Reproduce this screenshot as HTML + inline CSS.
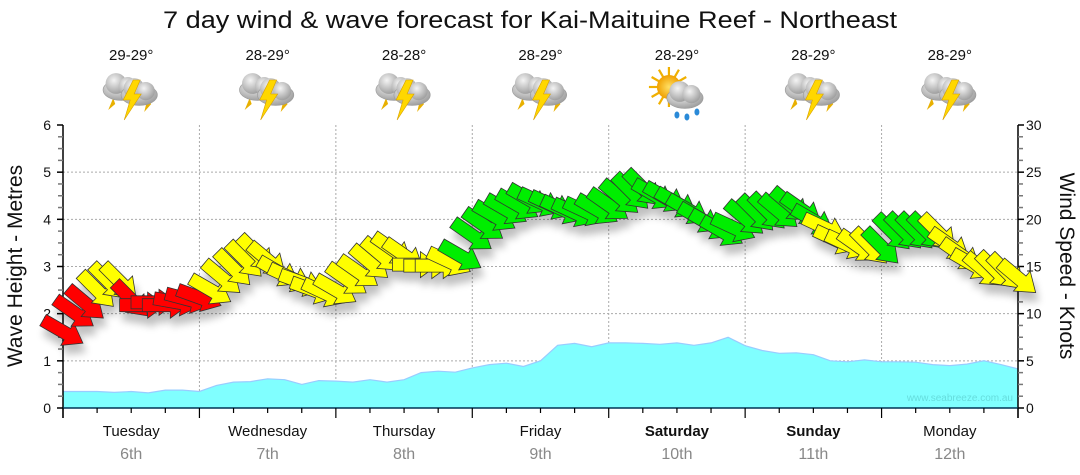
<!DOCTYPE html>
<html><head><meta charset="utf-8"><style>
html,body{margin:0;padding:0;background:#fff;}
svg{display:block;font-family:"Liberation Sans","DejaVu Sans",sans-serif;}
</style></head><body>
<svg id="chart" width="1080" height="475" viewBox="0 0 1080 475" xmlns="http://www.w3.org/2000/svg">
<defs>
<filter id="shadow" x="-50%" y="-50%" width="200%" height="250%">
<feGaussianBlur in="SourceAlpha" stdDeviation="4"/>
<feOffset dx="3" dy="9" result="b"/>
<feComponentTransfer><feFuncA type="linear" slope="0.25"/></feComponentTransfer>
<feMerge><feMergeNode/><feMergeNode in="SourceGraphic"/></feMerge>
</filter>
<radialGradient id="cloudG" cx="40%" cy="35%" r="70%"><stop offset="0" stop-color="#f4f4f4"/><stop offset="1" stop-color="#9a9a9a"/></radialGradient>
<radialGradient id="sunG" cx="50%" cy="50%" r="50%"><stop offset="0" stop-color="#ffe066"/><stop offset="1" stop-color="#f0a000"/></radialGradient>
</defs>
<text x="530" y="28" text-anchor="middle" font-size="24" textLength="734" lengthAdjust="spacingAndGlyphs" fill="#111">7 day wind &amp; wave forecast for Kai-Maituine Reef - Northeast</text>
<g id="grid"></g>
<g id="wave"></g>
<text x="1013" y="401" text-anchor="end" font-size="10" fill="#66dddd">www.seabreeze.com.au</text>
<g id="axes"></g>
<g id="wind" filter="url(#shadow)"></g>
<g id="days"></g>
<g id="weather"></g>
<text transform="translate(22,266) rotate(-90)" text-anchor="middle" font-size="21" fill="#111">Wave Height - Metres</text>
<text transform="translate(1060,266) rotate(90)" text-anchor="middle" font-size="21" fill="#111">Wind Speed - Knots</text>
</svg>
<script>
const dayNames = ["Tuesday","Wednesday","Thursday","Friday","Saturday","Sunday","Monday"];
const dayDates = ["6th","7th","8th","9th","10th","11th","12th"];
const dayBold = [false,false,false,false,true,true,false];
const temps = ["29-29°","28-29°","28-28°","28-29°","28-29°","28-29°","28-29°"];
const icons = ["storm","storm","storm","storm","sunrain","storm","storm"];
const leftTicks = [0,1,2,3,4,5,6];
const rightTicks = [0,5,10,15,20,25,30];
// wave height (m), every 3 hours
const waveHeights = [0.35,0.35,0.35,0.33,0.35,0.32,0.38,0.38,0.35,0.48,0.55,0.56,0.62,0.6,0.5,0.58,0.57,0.55,0.6,0.55,0.6,0.75,0.78,0.76,0.85,0.92,0.95,0.88,1.0,1.33,1.37,1.3,1.38,1.38,1.37,1.35,1.38,1.33,1.38,1.5,1.32,1.22,1.16,1.17,1.13,1.0,0.98,1.02,0.98,0.98,0.97,0.92,0.9,0.93,1.0,0.92,0.83];
// wind speed (knots), every 2 hours
const windSpeeds = [8.1,10.1,11.1,12.5,13.4,13.4,11.5,10.9,11.2,10.9,11.2,11.5,11.7,12.5,13.8,14.8,15.7,16.4,15.7,14.4,13.8,13.3,12.5,12.2,12.5,13.6,14.4,15.4,16.2,16.8,16.2,15.2,15.1,15.1,15.5,16.1,18.3,19.4,20.3,21.0,21.5,22.1,21.8,21.5,21.0,20.7,20.8,21.0,21.5,22.3,22.9,23.3,22.6,22.3,21.7,21.0,20.1,19.4,18.7,19.1,20.1,20.6,20.8,20.8,21.5,21.0,19.9,19.1,17.8,17.3,17.1,17.1,17.1,18.6,18.7,18.7,18.7,18.6,17.3,16.2,15.2,14.6,14.6,14.4,13.8];
// wind direction (degrees, compass "from")
const windDirs = [300,305,310,315,315,315,315,270,270,270,280,285,290,300,310,315,315,315,310,300,295,290,290,295,300,305,305,310,310,305,305,270,270,270,295,300,305,305,300,300,300,300,295,295,295,295,295,300,305,310,315,315,300,300,300,300,300,300,300,295,310,315,315,310,310,305,300,295,295,295,305,315,315,315,315,315,315,315,305,305,300,310,315,315,310];
const windRating = "rrryyyrrrrrrryyyyyyyyyyyyyyyyyyyyyyggggggggggggggggggggggggggggggggyyyyygggggyyyyyyy";

const NS="http://www.w3.org/2000/svg";
const X0=63, X1=1018, Y0=408, Y6=125;
const totalH=168;
const xOfHour = h => X0 + (X1-X0)*h/totalH;
const yOfM = m => Y0 - (Y0-Y6)*m/6;
const yOfKt = k => yOfM(k/5);
function mk(tag, attrs, parent){const e=document.createElementNS(NS,tag);for(const k in attrs)e.setAttribute(k,attrs[k]);parent.appendChild(e);return e;}

const grid=document.getElementById('grid');
for(let m=1;m<=5;m++){
  const l=mk('line',{x1:X0,x2:X1,y1:yOfM(m),y2:yOfM(m),stroke:'#aaa','stroke-dasharray':'2,2','stroke-width':1},grid);
  
  
}
for(let d=1;d<7;d++){
  const l=mk('line',{x1:xOfHour(d*24),x2:xOfHour(d*24),y1:Y6,y2:Y0,stroke:'#aaa','stroke-dasharray':'2,2','stroke-width':1},grid);
  
  
}

const wave=document.getElementById('wave');
let pts=waveHeights.map((v,i)=>xOfHour(i*3).toFixed(1)+','+yOfM(v).toFixed(1));
const area=mk('polygon',{points:X0+','+Y0+' '+pts.join(' ')+' '+X1+','+Y0,fill:'#80ffff'},wave);


const ln=mk('polyline',{points:pts.join(' '),fill:'none',stroke:'#99ccff','stroke-width':1.2},wave);



const axes=document.getElementById('axes');
mk('line',{x1:X0,x2:X0,y1:Y6,y2:Y0+10,stroke:'#000','stroke-width':1.5},axes);
mk('line',{x1:X1,x2:X1,y1:Y6,y2:Y0+10,stroke:'#000','stroke-width':1.5},axes);
mk('line',{x1:X0,x2:X1,y1:Y0,y2:Y0,stroke:'#003355','stroke-width':1.5},axes);
for(let q=0;q<=24;q++){
  const y=yOfM(q/4), len=(q%4===0)?6:5;
  mk('line',{x1:X0-len,x2:X0,y1:y,y2:y,stroke:q%4===0?'#000':'#777','stroke-width':1.5},axes);
  mk('line',{x1:X1,x2:X1+len,y1:y,y2:y,stroke:q%4===0?'#000':'#777','stroke-width':1.5},axes);
}
leftTicks.forEach(v=>{
  const t=mk('text',{x:X0-12,y:yOfM(v)+5,'text-anchor':'end','font-size':14,fill:'#111'},axes);
  t.textContent=v;
  
  
});
rightTicks.forEach(v=>{
  const t=mk('text',{x:X1+8,y:yOfKt(v)+5,'text-anchor':'start','font-size':14,fill:'#111'},axes);
  t.textContent=v;
  
  
});
for(let h=0;h<=168;h+=6){
  const major=h%24===0;
  mk('line',{x1:xOfHour(h),x2:xOfHour(h),y1:Y0,y2:Y0+(major?10:5),stroke:'#000','stroke-width':1.2},axes);
}

const days=document.getElementById('days');
dayNames.forEach((n,i)=>{
  const cx=xOfHour(i*24+12);
  const t=mk('text',{x:cx,y:436,'text-anchor':'middle','font-size':15,fill:'#111','font-weight':dayBold[i]?'bold':'normal'},days);
  t.textContent=n;
  
  
  const d=mk('text',{x:cx,y:459,'text-anchor':'middle','font-size':16,fill:'#888'},days);
  d.textContent=dayDates[i];
  
  
});

const weather=document.getElementById('weather');
function cloud(g,ox,oy,s){
  mk('ellipse',{cx:ox,cy:oy,rx:14*s,ry:8*s,fill:'url(#cloudG)',stroke:'#999','stroke-width':0.6},g);
  mk('circle',{cx:ox-4*s,cy:oy-5*s,r:8*s,fill:'url(#cloudG)'},g);
  mk('circle',{cx:ox+5*s,cy:oy-3*s,r:7*s,fill:'url(#cloudG)'},g);
}
temps.forEach((tt,i)=>{
  const cx=xOfHour(i*24+12);
  const t=mk('text',{x:cx,y:60,'text-anchor':'middle','font-size':15,fill:'#111'},weather);
  t.textContent=tt;
  
  
  const g=mk('g',{},weather);
  
  
  if(icons[i]==='storm'){
    mk('polygon',{points:`${cx-18},${98} ${cx-23},${110} ${cx-16},${104}`,fill:'#e8b000'},g);
    mk('polygon',{points:`${cx+16},${100} ${cx+13},${112} ${cx+20},${104}`,fill:'#e8b000'},g);
    cloud(g,cx-10,90,1.3);
    cloud(g,cx+8,95,1.3);
    mk('polygon',{points:`${cx+2},${80} ${cx-8},${100} ${cx-1},${100} ${cx-7},${120} ${cx+10},${94} ${cx+3},${94} ${cx+9},${80}`,fill:'#ffd700',stroke:'#d8a000','stroke-width':0.6},g);
  } else {
    for(let k=0;k<12;k++){const a=k*Math.PI/6;mk('line',{x1:cx-8+Math.cos(a)*11,y1:87+Math.sin(a)*11,x2:cx-8+Math.cos(a)*20,y2:87+Math.sin(a)*20,stroke:'#f0b000','stroke-width':2.2},g);}
    mk('circle',{cx:cx-8,cy:87,r:12,fill:'url(#sunG)'},g);
    cloud(g,cx+8,98,1.3);
    mk('ellipse',{cx:cx,cy:115,rx:2.5,ry:3.5,fill:'#2a8ad8'},g);
    mk('ellipse',{cx:cx+10,cy:117,rx:2.5,ry:3.5,fill:'#2a8ad8'},g);
    mk('ellipse',{cx:cx+20,cy:112,rx:2.5,ry:3.5,fill:'#2a8ad8'},g);
  }
});

const wind=document.getElementById('wind');
const colors={r:'#ff0000',y:'#ffff00',g:'#00ee00'};
windSpeeds.forEach((k,i)=>{
  const x=xOfHour(i*2), y=yOfKt(k);
  const rot=(windDirs[i]+90)%360;
  const p=mk('polygon',{points:'-23,-6.5 5,-6.5 5,-13 23,0 5,13 5,6.5 -23,6.5',fill:colors[windRating[i]]||'#ffff00',stroke:'#333','stroke-width':0.8,transform:`translate(${x.toFixed(1)},${y.toFixed(1)}) rotate(${rot})`},wind);
  
  
});
</script>
</body></html>
